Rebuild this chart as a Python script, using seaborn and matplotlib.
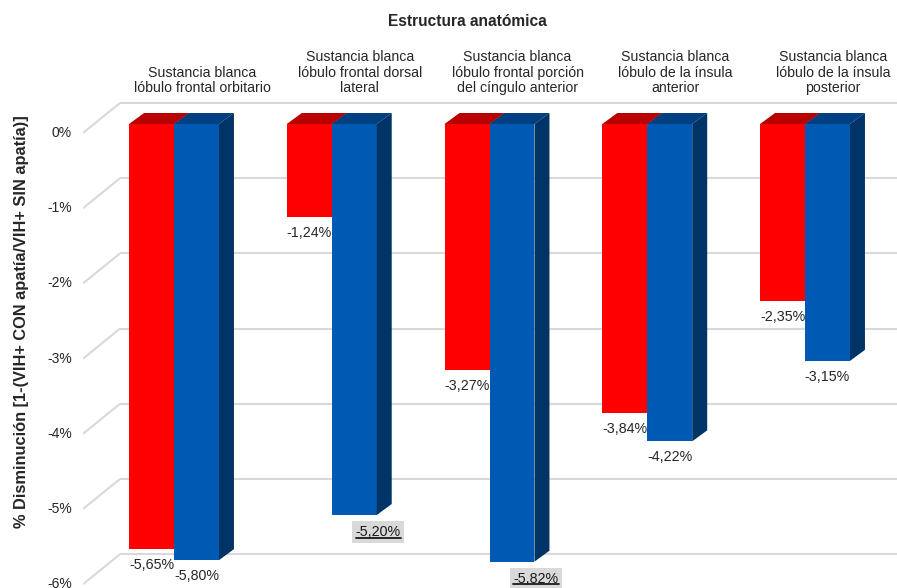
import matplotlib
matplotlib.use("Agg")
import matplotlib.pyplot as plt
import matplotlib.transforms as mtransforms
from matplotlib.patches import Polygon
from matplotlib.lines import Line2D
import numpy as np
import pandas as pd
import seaborn as sns

# ---- data ----
categories = [
    "Sustancia blanca\nlóbulo frontal orbitario",
    "Sustancia blanca\nlóbulo frontal dorsal\nlateral",
    "Sustancia blanca\nlóbulo frontal porción\ndel cíngulo anterior",
    "Sustancia blanca\nlóbulo de la ínsula\nanterior",
    "Sustancia blanca\nlóbulo de la ínsula\nposterior",
]
series_names = ["Serie A", "Serie B"]
red_values = [-5.65, -1.24, -3.27, -3.84, -2.35]
blue_values = [-5.80, -5.20, -5.82, -4.22, -3.15]
highlighted = [False, True, True, False, False]  # blue labels shown with a grey box
ytick_values = [0, -1, -2, -3, -4, -5, -6]
ytick_labels = ["0%", "-1%", "-2%", "-3%", "-4%", "-5%", "-6%"]

df = pd.DataFrame({
    "cat": categories * 2,
    "serie": [series_names[0]] * 5 + [series_names[1]] * 5,
    "valor": red_values + blue_values,
})

FONT = "Liberation Sans"
sns.set_theme(style="white")
plt.rcParams["font.family"] = [FONT, "DejaVu Sans"]

W, H, DPI = 897, 588, 100
fig = plt.figure(figsize=(W / DPI, H / DPI), dpi=DPI)

# axes geometry (pixel based)
ax_left, ax_right, ax_top, ax_bottom = 83, 897, 95, 588
ax = fig.add_axes([ax_left / W, 1 - ax_bottom / H, (ax_right - ax_left) / W, (ax_bottom - ax_top) / H])

px_per_unit_y = 75.2
zero_px = 124
px_per_unit_x = 157.75
first_center_px = 174
ylim = ((zero_px - ax_bottom) / px_per_unit_y, (zero_px - ax_top) / px_per_unit_y)
xlim = ((ax_left - first_center_px) / px_per_unit_x, (ax_right - first_center_px) / px_per_unit_x)

red, blue = "#FF0000", "#005AB4"
red_top, blue_top, blue_side = "#B80000", "#003F80", "#003366"
text_c = "#262626"

sns.barplot(data=df, x="cat", y="valor", hue="serie", palette=[red, blue],
            width=0.57, gap=0, dodge=True, ax=ax, legend=False,
            saturation=1, linewidth=0, zorder=3, errorbar=None)

ax.set_xlim(*xlim)
ax.set_ylim(*ylim)
ax.axis("off")

# depth offsets in data units
dx = 15 / px_per_unit_x
dy = 11 / px_per_unit_y

# back-wall gridlines with slanted floor segments on the left
grid_c = "#D9D9D9"
back_x0 = (120 - first_center_px) / px_per_unit_x
for v in ytick_values:
    yb = v + 21 / px_per_unit_y
    yf = v - 9 / px_per_unit_y
    ax.plot([xlim[0], back_x0], [yf, yb], color=grid_c, lw=1.5, zorder=1, solid_capstyle="butt")
    ax.plot([back_x0, xlim[1]], [yb, yb], color=grid_c, lw=1.5, zorder=1, solid_capstyle="butt")

# y tick labels
blend = mtransforms.blended_transform_factory(ax.transAxes, ax.transData)
for v, lab in zip(ytick_values, ytick_labels):
    ax.text(-11 / (ax_right - ax_left), v - 9 / px_per_unit_y, lab, transform=blend,
            ha="right", va="center", fontsize=10, color=text_c, clip_on=False)

# 3D top and side faces
patches = list(ax.patches)
n = len(categories)
for i, p in enumerate(patches[: 2 * n]):
    x0 = p.get_x()
    x1 = x0 + p.get_width()
    v = p.get_y() + p.get_height()
    is_blue = i >= n
    top = Polygon([(x0, 0), (x1, 0), (x1 + dx, dy), (x0 + dx, dy)], closed=True,
                  facecolor=blue_top if is_blue else red_top, edgecolor="none", zorder=2.5)
    side = Polygon([(x1, 0), (x1 + dx, dy), (x1 + dx, v + dy), (x1, v)], closed=True,
                   facecolor=blue_side if is_blue else "#A00000", edgecolor="none",
                   zorder=3.5 if is_blue else 2.4)
    ax.add_patch(top)
    ax.add_patch(side)

# value labels
lab_off = 16 / px_per_unit_y
hl_texts = []
for i, p in enumerate(patches[: 2 * n]):
    xc = p.get_x() + p.get_width() / 2
    v = p.get_y() + p.get_height()
    is_blue = i >= n
    val = blue_values[i - n] if is_blue else red_values[i]
    txt = f"{val:.2f}%".replace(".", ",")
    if is_blue and highlighted[i - n]:
        t = ax.text(xc + 24 / px_per_unit_x, v - 17 / px_per_unit_y, txt, ha="center", va="center",
                    fontsize=10.3, color="#1a1a1a", zorder=6,
                    bbox=dict(boxstyle="square,pad=0.25", facecolor="#D9D9D9", edgecolor="none"))
        hl_texts.append(t)
    else:
        ax.text(xc, v - lab_off, txt, ha="center", va="center", fontsize=10.3,
                color=text_c, zorder=6)

# category labels across the top
for k, cat in enumerate(categories):
    xc = k + 28 / px_per_unit_x
    ax.text(xc, (zero_px - 95) / px_per_unit_y, cat, ha="center", va="bottom",
            fontsize=10.2, color=text_c, linespacing=1.12, clip_on=False)

fig.text(467 / W, 1 - 21 / H, "Estructura anatómica", ha="center", va="center",
         fontsize=11.2, fontweight="bold", color=text_c)
fig.text(22 / W, 1 - 322 / H, "% Disminución [1-(VIH+ CON apatía/VIH+ SIN apatía)]",
         ha="center", va="center", rotation=90, fontsize=11.8, fontweight="bold", color=text_c)

# underline the highlighted labels
fig.canvas.draw()
renderer = fig.canvas.get_renderer()
for t in hl_texts:
    bb = t.get_window_extent(renderer)
    yline = bb.y0 + 1.5
    fig.add_artist(Line2D([bb.x0 / W, bb.x1 / W], [yline / H, yline / H],
                          transform=fig.transFigure, color="#1a1a1a", lw=1.3, zorder=7))

fig.savefig("out.png", dpi=DPI)
